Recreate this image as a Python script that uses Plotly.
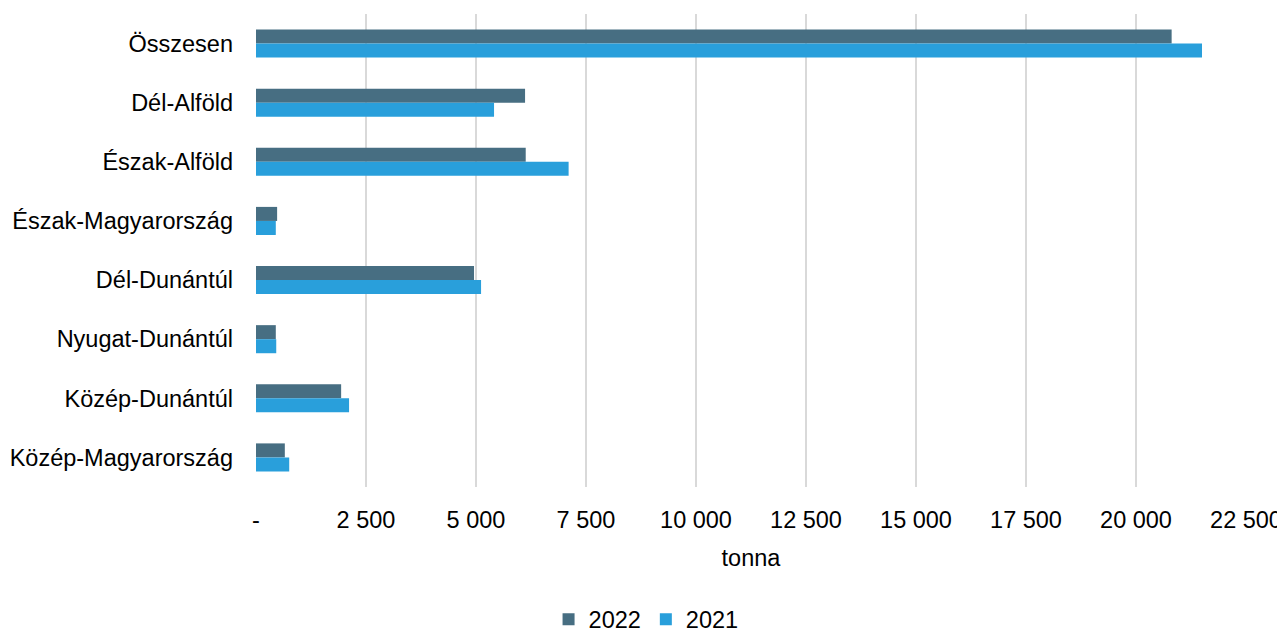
import plotly.graph_objects as go

categories = ["Összesen", "Dél-Alföld", "Észak-Alföld", "Észak-Magyarország",
              "Dél-Dunántúl", "Nyugat-Dunántúl", "Közép-Dunántúl", "Közép-Magyarország"]
values_2022 = [20810, 6115, 6130, 480, 4955, 450, 1935, 655]
values_2021 = [21500, 5410, 7105, 450, 5115, 460, 2115, 755]
tick_vals = [0, 2500, 5000, 7500, 10000, 12500, 15000, 17500, 20000, 22500]
tick_text = ["-", "2 500", "5 000", "7 500", "10 000", "12 500", "15 000", "17 500", "20 000", "22 500"]

FONT = "Liberation Sans, Arial, sans-serif"
FS = 23.5

fig = go.Figure()
fig.add_trace(go.Bar(name="2022", y=categories, x=values_2022, orientation="h",
                     marker=dict(color="#476E82", line=dict(width=0))))
fig.add_trace(go.Bar(name="2021", y=categories, x=values_2021, orientation="h",
                     marker=dict(color="#299FDB", line=dict(width=0))))

# page body has an 8px margin, so the figure is sized to fit the remaining window
fig.update_layout(
    width=1277, height=627,
    margin=dict(l=248, r=39, t=6, b=148, autoexpand=False),
    paper_bgcolor="white", plot_bgcolor="white",
    barmode="group", bargap=0.525, bargroupgap=0,
    font=dict(family=FONT, size=FS, color="#000000"),
    showlegend=True,
    legend=dict(orientation="h", x=0.394, xanchor="center", y=-0.28, yanchor="middle",
                font=dict(size=FS), traceorder="normal", itemwidth=30,
                bgcolor="rgba(0,0,0,0)"),
    xaxis=dict(range=[0, 22500], tickvals=tick_vals, ticktext=tick_text,
               showgrid=True, gridcolor="#d9d9d9", gridwidth=1.5,
               zeroline=False, showline=False, ticks="", ticklabelstandoff=16,
               tickfont=dict(size=FS), automargin=False,
               title=dict(text="tonna", font=dict(size=FS), standoff=18)),
    yaxis=dict(categoryorder="array", categoryarray=categories, autorange="reversed",
               showgrid=False, zeroline=False, showline=False, ticks="",
               ticklabelstandoff=22, tickfont=dict(size=FS), automargin=False),
)

fig.write_html("out.html")
